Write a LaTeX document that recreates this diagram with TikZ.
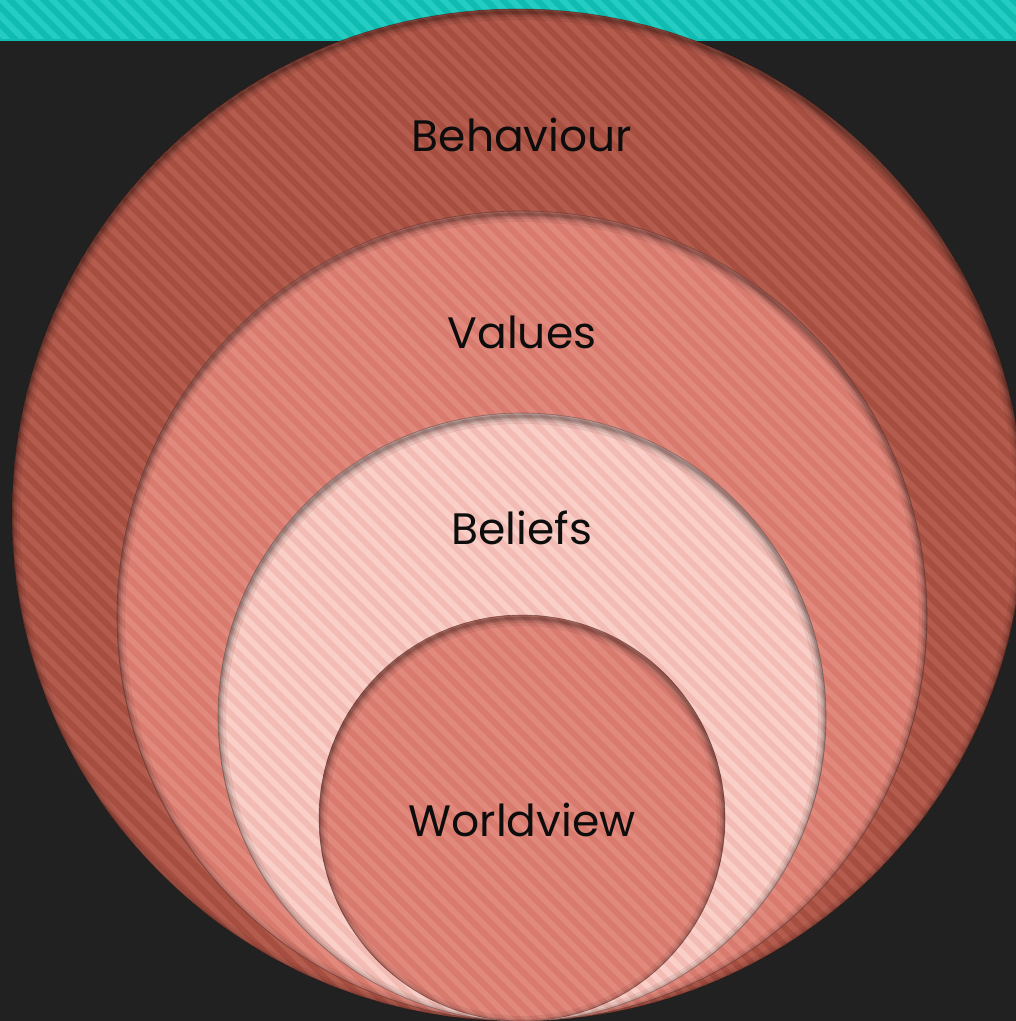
\documentclass[tikz,border=0pt]{standalone}
\usepackage{fontspec}
\setmainfont{Poppins}
\definecolor{bgc}{HTML}{212121}
\definecolor{tealbase}{HTML}{24CCC2}
\definecolor{tealstripe}{HTML}{10BBB1}
\definecolor{outerbase}{HTML}{B45C4E}
\definecolor{outerstripe}{HTML}{A64F41}
\definecolor{valbase}{HTML}{E2897D}
\definecolor{valstripe}{HTML}{D87A6E}
\definecolor{belbase}{HTML}{F9CFC8}
\definecolor{belstripe}{HTML}{F2BCB4}
\definecolor{wvbase}{HTML}{E2897D}
\definecolor{wvstripe}{HTML}{D87A6E}
\tikzset{stripeline/.style={line width=6pt,line cap=butt}}
\newcommand\mystripes[1]{%
  \foreach \k in {-1054,-1037,...,1030}
    \draw[stripeline,#1] (\k,-10) -- (\k+1050,1040);
}
\newcommand\mydisc[5]{%
  \fill[#4] (#1,#2) circle[radius=#3];
  \begin{scope}
    \clip (#1,#2) circle[radius=#3];
    \mystripes{#5}
    \foreach \w/\o in {16/0.07,10/0.09,6/0.11,3/0.14} \draw[black,opacity=\o,line width=\w] (#1,#2+3) circle[radius=#3];
  \end{scope}
  \draw[black,opacity=0.3,line width=0.7] (#1,#2) circle[radius=#3];
}
\tikzset{lbl/.style={text=black!95,font=\fontsize{44}{52}\selectfont,inner sep=0pt}}
\begin{document}
\begin{tikzpicture}[x=1pt,y=-1pt]
\useasboundingbox (0,0) rectangle (1016,1021);
\fill[bgc] (0,0) rectangle (1016,1021);
\fill[tealbase] (0,0) rectangle (1016,40);
\begin{scope}
  \clip (0,0) rectangle (1016,40);
  \mystripes{tealstripe}
\end{scope}
\fill[tealstripe] (0,38.5) rectangle (1016,40.5);
\mydisc{518}{515}{506}{outerbase}{outerstripe}
\mydisc{522}{616}{405}{valbase}{valstripe}
\mydisc{522}{717}{304}{belbase}{belstripe}
\mydisc{522}{818}{203}{wvbase}{wvstripe}
\node[lbl] (behaviour) at (522,135) {Behaviour};
\node[lbl] (values) at (522,332) {Values};
\node[lbl] (beliefs) at (522,528) {Beliefs};
\node[lbl] (worldview) at (522,820) {Worldview};
\end{tikzpicture}
\end{document}
